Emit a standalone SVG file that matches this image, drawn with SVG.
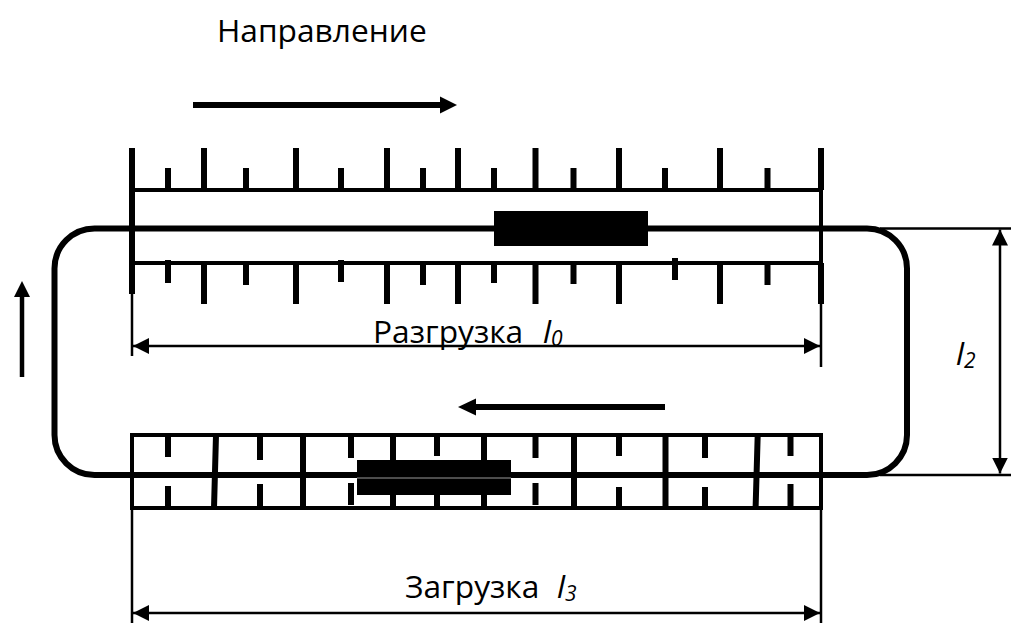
<svg xmlns="http://www.w3.org/2000/svg" width="1011" height="623" viewBox="0 0 1011 623">
<style>
text{font-family:"Open Sans","Noto Sans","Liberation Sans",sans-serif;fill:#000;font-size:31.700px}
.i{font-style:italic}
.s{font-size:21px;font-style:italic}
.t{stroke:#000;stroke-width:6;fill:none}
.m{stroke:#000;stroke-width:4;fill:none}
.d{stroke:#000;stroke-width:2.500;fill:none}
</style>
<defs>
<marker id="a" markerUnits="userSpaceOnUse" markerWidth="16" markerHeight="16" refX="16" refY="8" orient="auto-start-reverse"><path d="M0 0L16 8L0 16Z"/></marker>
</defs>
<g id="track"><rect x="54.500" y="228.500" width="852.500" height="246.500" rx="40" ry="40" fill="none" stroke="#000" stroke-width="6"/></g>
<g id="upper-conveyor">
<path class="m" d="M132 190H821M132 263H821"/>
<path class="t" d="M132 148V294M821 148V190M821 263V304M204 148V190M296 148V190M387 148V190M458 148V190M535.500 148V190M619 148V190M720 148V190M168 168V190M246 168V190M341 168V190M423 168V190M494 168V190M573.500 168V190M665 168V190M767.500 168V190M204 263V304M296 263V304M387 263V304M458 263V304M535.500 263V304M619 263V304M720 263V304M168 260V283M246 263V285M341 260V282M423 263V285M494 263V283M573.500 263V284M675 258V280M767.500 263V285"/>
<path class="m" d="M821 190V263"/>
<rect x="494" y="211" width="154" height="35"/>
</g>
<g id="lower-conveyor">
<rect class="m" x="132" y="435" width="689" height="73"/>
<path class="t" d="M216 435L214 508M303 435V508M393 435V508M484 435V508M574 435V508M665.500 435V508M757.700 435L755.600 508M168 435V457M260 435V460M351 435V458M437 435V456M535.500 435V458M619 435V456M705 435V458M790.500 435V456M168 486V508M260 484V508M351 483V505M437 484V508M535.500 483V505M619 487V508M705 487V508M790.500 484V508"/>
<rect x="357" y="460" width="154" height="35"/>
<path d="M357 478H511" stroke="#999" stroke-width="1"/>
</g>
<g id="connectors">
<path class="t" d="M193 105H442"/><path d="M440 96.500L457 105L440 113.500Z"/>
<path class="t" d="M665 407H474"/><path d="M476 398.500L458 407L476 415.500Z"/>
<path class="t" style="stroke-width:4.500" d="M22 377V295"/><path d="M14 297L22 281L30 297Z"/>
<path class="d" d="M132 294V356M821 304V367M132 508V623M821 508V623"/>
<path class="d" d="M133 346H820" marker-start="url(#a)" marker-end="url(#a)"/>
<path class="d" d="M133 613H820" marker-start="url(#a)" marker-end="url(#a)"/>
<path class="d" d="M880 228.500H1011M880 475H1011"/>
<path class="d" d="M1000 229.500V473.500" marker-start="url(#a)" marker-end="url(#a)"/>
</g>
<g id="labels">
<text x="217" y="42">Направление</text>
<text x="373" y="343">Разгрузка</text>
<text class="i" x="543" y="343">l<tspan class="s" dy="3">0</tspan></text>
<text x="405" y="598">Загрузка</text>
<text class="i" x="557" y="598">l<tspan class="s" dy="3">3</tspan></text>
<text class="i" x="956" y="365">l<tspan class="s" dy="3">2</tspan></text>
</g>
</svg>
